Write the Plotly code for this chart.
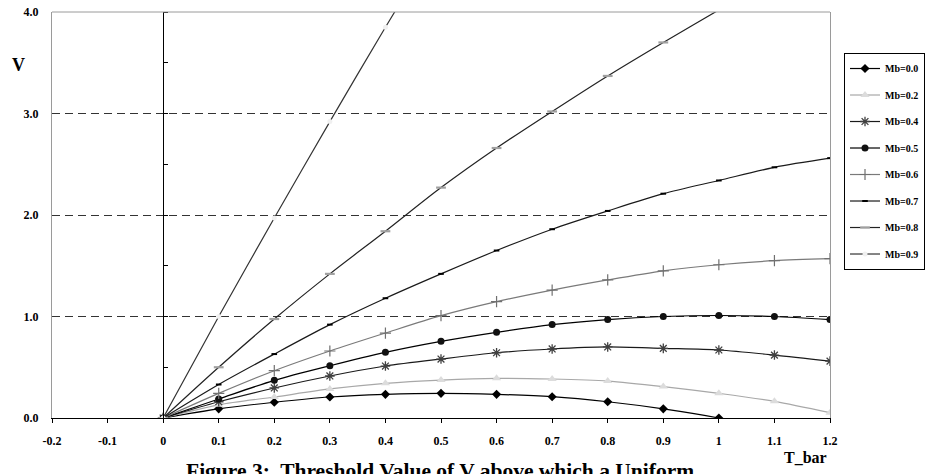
import plotly.graph_objects as go

t_bar = [0.0, 0.1, 0.2, 0.3, 0.4, 0.5, 0.6, 0.7, 0.8, 0.9, 1.0, 1.1, 1.2]
mb00 = [0.0, 0.09, 0.155, 0.207, 0.233, 0.243, 0.233, 0.21, 0.16, 0.09, 0.0, -0.12, -0.28]
mb02 = [0.0, 0.13, 0.207, 0.286, 0.342, 0.374, 0.391, 0.384, 0.364, 0.31, 0.243, 0.164, 0.052]
mb04 = [0.0, 0.16, 0.296, 0.414, 0.512, 0.581, 0.643, 0.68, 0.70, 0.686, 0.67, 0.62, 0.56]
mb05 = [0.0, 0.187, 0.371, 0.515, 0.647, 0.755, 0.844, 0.92, 0.97, 1.0, 1.01, 1.0, 0.97]
mb06 = [0.0, 0.243, 0.466, 0.66, 0.837, 1.008, 1.146, 1.26, 1.36, 1.45, 1.51, 1.55, 1.57]
mb07 = [0.0, 0.33, 0.63, 0.92, 1.18, 1.42, 1.65, 1.86, 2.04, 2.21, 2.34, 2.47, 2.56]
mb08 = [0.0, 0.5, 0.975, 1.42, 1.84, 2.27, 2.66, 3.02, 3.37, 3.70, 4.02, 4.33, 4.62]
t_bar09 = [0.0, 0.1, 0.2, 0.3, 0.4, 0.5, 0.6]
mb09 = [0.0, 1.0, 1.97, 2.92, 3.85, 4.75, 5.62]

x_tick_vals = [-0.2, -0.1, 0, 0.1, 0.2, 0.3, 0.4, 0.5, 0.6, 0.7, 0.8, 0.9, 1, 1.1, 1.2]
x_tick_text = ["-0.2", "-0.1", "0", "0.1", "0.2", "0.3", "0.4", "0.5", "0.6", "0.7",
               "0.8", "0.9", "1", "1.1", "1.2"]
y_tick_vals = [0, 1, 2, 3, 4]

FONT = "Liberation Serif, Times New Roman, serif"

series = [
    ("Mb=0.0", t_bar, mb00, "#000000", dict(symbol="diamond", size=7, color="#000000")),
    ("Mb=0.2", t_bar, mb02, "#a8a8a8", dict(symbol="triangle-up", size=8, color="#dcdcdc")),
    ("Mb=0.4", t_bar, mb04, "#1a1a1a", dict(symbol="asterisk-open", size=8, color="#404040",
                                           line=dict(width=1.3, color="#404040"))),
    ("Mb=0.5", t_bar, mb05, "#000000", dict(symbol="circle", size=7, color="#111111")),
    ("Mb=0.6", t_bar, mb06, "#7a7a7a", dict(symbol="cross-thin-open", size=8, color="#707070",
                                           line=dict(width=1.2, color="#707070"))),
    ("Mb=0.7", t_bar, mb07, "#1a1a1a", dict(symbol="line-ew-open", size=4, color="#000000",
                                           line=dict(width=2, color="#000000"))),
    ("Mb=0.8", t_bar, mb08, "#222222", dict(symbol="line-ew-open", size=7, color="#a0a0a0",
                                           line=dict(width=2.2, color="#a0a0a0"))),
    ("Mb=0.9", t_bar09, mb09, "#333333", dict(symbol="circle", size=5, color="#f0f0f0",
                                             line=dict(width=0))),
]

fig = go.Figure()
for name, xs, ys, lc, mk in series:
    fig.add_trace(go.Scatter(
        x=xs, y=ys, name=name, mode="lines+markers",
        line=dict(color=lc, width=1.2, shape="spline", smoothing=0.8),
        marker=mk, legendgroup=name,
    ))

# helper trace for the vertical axis drawn at T_bar = 0
fig.add_trace(go.Scatter(x=[None], y=[None], yaxis="y2", showlegend=False, hoverinfo="skip"))

fig.update_layout(
    width=917, height=466,
    margin=dict(l=44, r=95, t=4, b=56, autoexpand=False),
    paper_bgcolor="white", plot_bgcolor="white",
    showlegend=True,
    legend=dict(
        x=1.018, y=0.899, xanchor="left", yanchor="top",
        bordercolor="#000000", borderwidth=1, bgcolor="white",
        font=dict(family=FONT, size=10, color="#000000", weight="bold"),
        tracegroupgap=7.5, itemwidth=30,
    ),
    xaxis=dict(
        range=[-0.2, 1.2], tickvals=x_tick_vals, ticktext=x_tick_text,
        ticks="outside", ticklen=4, tickcolor="#000000",
        showline=True, linecolor="#000000", linewidth=1,
        showgrid=False, zeroline=False, automargin=False,
        tickfont=dict(family=FONT, size=12, color="#000000", weight="bold"),
        ticklabelstandoff=8, ticklabeloverflow="allow",
    ),
    yaxis=dict(
        range=[0, 4], tickvals=y_tick_vals, tickformat=".1f",
        ticks="", showline=True, linecolor="#9a9a9a", linewidth=1, mirror=True,
        showgrid=True, gridcolor="#333333", gridwidth=1, griddash="8px,5px",
        zeroline=False, automargin=False,
        tickfont=dict(family=FONT, size=12, color="#000000", weight="bold"),
        ticklabelstandoff=10, ticklabeloverflow="allow",
    ),
    yaxis2=dict(
        overlaying="y", anchor="free", position=0.142857, side="right",
        range=[0, 4], dtick=0.5, ticks="outside", ticklen=4, tickcolor="#000000",
        showticklabels=False, showline=True, linecolor="#000000", linewidth=1,
        showgrid=False, zeroline=False, automargin=False,
    ),
    shapes=[
        dict(type="line", xref="paper", yref="paper", x0=0, x1=1, y0=1, y1=1,
             line=dict(color="#9a9a9a", width=1)),
    ],
    annotations=[
        dict(text="V", xref="paper", yref="paper", x=-0.0437, y=0.869,
             xanchor="center", yanchor="middle",
             showarrow=False, font=dict(family=FONT, size=18, color="#000000", weight="bold")),
        dict(text="T_bar", xref="paper", yref="paper", x=0.968, y=-0.0985,
             xanchor="center", yanchor="middle",
             showarrow=False, font=dict(family=FONT, size=16, color="#000000", weight="bold")),
        dict(text="Figure 3:  Threshold Value of V above which a Uniform", xref="paper", yref="paper",
             x=0.4987, y=-0.096, xanchor="center", yanchor="top", showarrow=False,
             font=dict(family=FONT, size=21.5, color="#000000", weight="bold")),
    ],
)

fig.write_html("out.html")
